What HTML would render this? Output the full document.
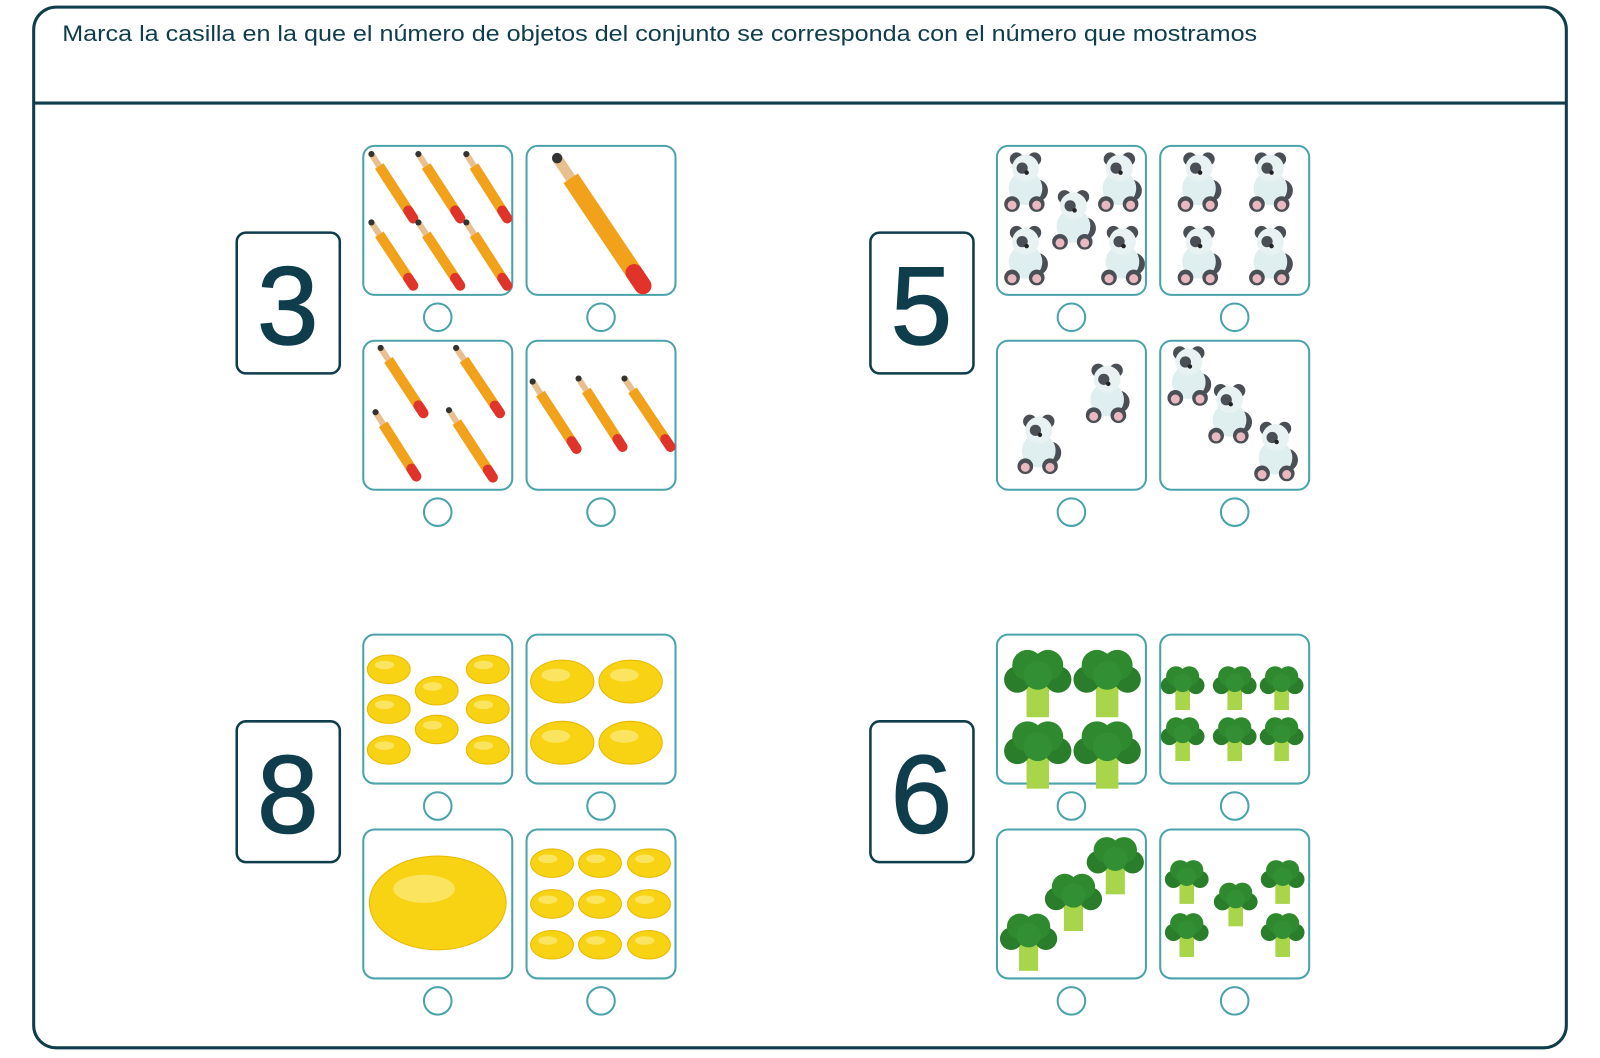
<!DOCTYPE html>
<html><head><meta charset="utf-8"><style>
html,body{margin:0;padding:0;background:#fff;width:1600px;height:1058px;overflow:hidden}
</style></head><body>
<svg id="s" width="1600" height="1058" viewBox="0 0 1568 1037" preserveAspectRatio="none" xmlns="http://www.w3.org/2000/svg" font-family="Liberation Sans, sans-serif">
<rect x="33" y="7" width="1502" height="1020" rx="22" fill="#fff" stroke="#0f3d4c" stroke-width="3"/>
<line x1="33" y1="101" x2="1535" y2="101" stroke="#0f3d4c" stroke-width="3"/>
<text x="61" y="40" font-size="22" fill="#0f3d4c" textLength="1171" lengthAdjust="spacingAndGlyphs">Marca la casilla en la que el número de objetos del conjunto se corresponda con el número que mostramos</text>
<g id="g"></g>
</svg>
<script>
var g=document.getElementById('g');var h='';
function box(x,y,t){h+='<rect x="'+x+'" y="'+y+'" width="101" height="138" rx="9" fill="#fff" stroke="#0f3d4c" stroke-width="2.5"/><text x="'+(x+50)+'" y="'+(y+109)+'" font-size="108" text-anchor="middle" fill="#0f3d4c" stroke="#0f3d4c" stroke-width="1.5">'+t+'</text>';}
function tile(x,y){h+='<rect x="'+x+'" y="'+y+'" width="146" height="146" rx="11" fill="#fff" stroke="#4aa3aa" stroke-width="2"/>';}
function circ(x,y){h+='<circle cx="'+x+'" cy="'+y+'" r="13.5" fill="#fff" stroke="#4aa3aa" stroke-width="2"/>';}
function group(bx,by,tx,ty,n){box(bx,by,n);var xs=[tx,tx+160],ys=[ty,ty+191];for(var i=0;i<2;i++)for(var j=0;j<2;j++){tile(xs[j],ys[i]);circ(xs[j]+73,ys[i]+168);}}
group(232,228,356,143,'3');group(853,228,977,143,'5');group(232,707,356,622,'8');group(853,707,977,622,'6');
function pencil(x1,y1,x2,y2,w){var dx=x2-x1,dy=y2-y1,L=Math.hypot(dx,dy),ux=dx/L,uy=dy/L;
var tx=x1+ux*w*1.4,ty=y1+uy*w*1.4,ex=x2-ux*w*0.9,ey=y2-uy*w*0.9;
h+='<line x1="'+x1+'" y1="'+y1+'" x2="'+tx+'" y2="'+ty+'" stroke="#e8c090" stroke-width="'+(w*0.6)+'" stroke-linecap="round"/>';
h+='<circle cx="'+x1+'" cy="'+y1+'" r="'+(w*0.3)+'" fill="#333"/>';
h+='<line x1="'+tx+'" y1="'+ty+'" x2="'+ex+'" y2="'+ey+'" stroke="#f2a21a" stroke-width="'+w+'"/>';
h+='<line x1="'+ex+'" y1="'+ey+'" x2="'+x2+'" y2="'+y2+'" stroke="#e0332a" stroke-width="'+w+'" stroke-linecap="round"/>';}
[[364,151,405,214],[410,151,451,214],[457,151,497,214],[364,218,405,280],[410,218,451,280],[457,218,497,280],[373,341,415,405],[447,341,490,405],[368,404,408,467],[440,402,483,468],[522,374,565,440],[567,371,610,438],[612,371,657,438]].forEach(function(p){pencil(p[0],p[1],p[2],p[3],10)});
pencil(546,155,630,280,17);
function panda(cx,cy,s){function c(x,y,r,f){h+='<circle cx="'+(cx+x*s)+'" cy="'+(cy+y*s)+'" r="'+(r*s)+'" fill="'+f+'"/>';}
c(10,8,10,'#4a4f55');c(0,6,15,'#dfeeee');c(-12,20,7,'#4a4f55');c(10,20,7,'#4a4f55');c(-12,21,4,'#e9b8c0');c(10,21,4,'#e9b8c0');
c(-8,-20,6,'#4a4f55');c(8,-20,6,'#4a4f55');c(0,-12,12,'#e8f2f2');c(-3,-12,5,'#4a4f55');c(1,-8,2,'#222');}
[[1005,178],[1097,178],[1052,215],[1005,250],[1100,250],[1175,178],[1245,178],[1175,250],[1245,250],[1018,435],[1085,385],[1165,368],[1205,405],[1250,442]].forEach(function(p){panda(p[0],p[1],1.1)});
function lemon(cx,cy,rx,ry){h+='<ellipse cx="'+cx+'" cy="'+cy+'" rx="'+rx+'" ry="'+ry+'" fill="#f7d313" stroke="#e7b800" stroke-width="1"/><ellipse cx="'+(cx-rx*0.2)+'" cy="'+(cy-ry*0.3)+'" rx="'+(rx*0.45)+'" ry="'+(ry*0.3)+'" fill="#fbe560"/>';}
[[381,656],[428,677],[478,656],[381,695],[478,695],[428,715],[381,735],[478,735]].forEach(function(p){lemon(p[0],p[1],21,14)});
[[551,668],[618,668],[551,728],[618,728]].forEach(function(p){lemon(p[0],p[1],31,21)});
lemon(429,885,67,46);
[541,588,636].forEach(function(x){[846,886,926].forEach(function(y){lemon(x,y,21,14)})});
function broc(cx,cy,s){h+='<rect x="'+(cx-11*s)+'" y="'+(cy+5*s)+'" width="'+(22*s)+'" height="'+(38*s)+'" fill="#a9d54a"/>';
function c(x,y,r,f){h+='<circle cx="'+(cx+x*s)+'" cy="'+(cy+y*s)+'" r="'+(r*s)+'" fill="'+f+'"/>';}
c(-20,6,13,'#2a7d2a');c(20,6,13,'#2a7d2a');c(-10,-8,15,'#2f8a2f');c(10,-8,15,'#2f8a2f');c(0,2,14,'#338f33');}
[[1017,660],[1085,660],[1017,730],[1085,730]].forEach(function(p){broc(p[0],p[1],1)});
[1159,1210,1256].forEach(function(x){[668,718].forEach(function(y){broc(x,y,0.65)})});
[[1008,915],[1052,876],[1093,840]].forEach(function(p){broc(p[0],p[1],0.85)});
[[1163,858],[1257,858],[1211,880],[1163,910],[1257,910]].forEach(function(p){broc(p[0],p[1],0.65)});
g.innerHTML=h;
</script>
</body></html>
